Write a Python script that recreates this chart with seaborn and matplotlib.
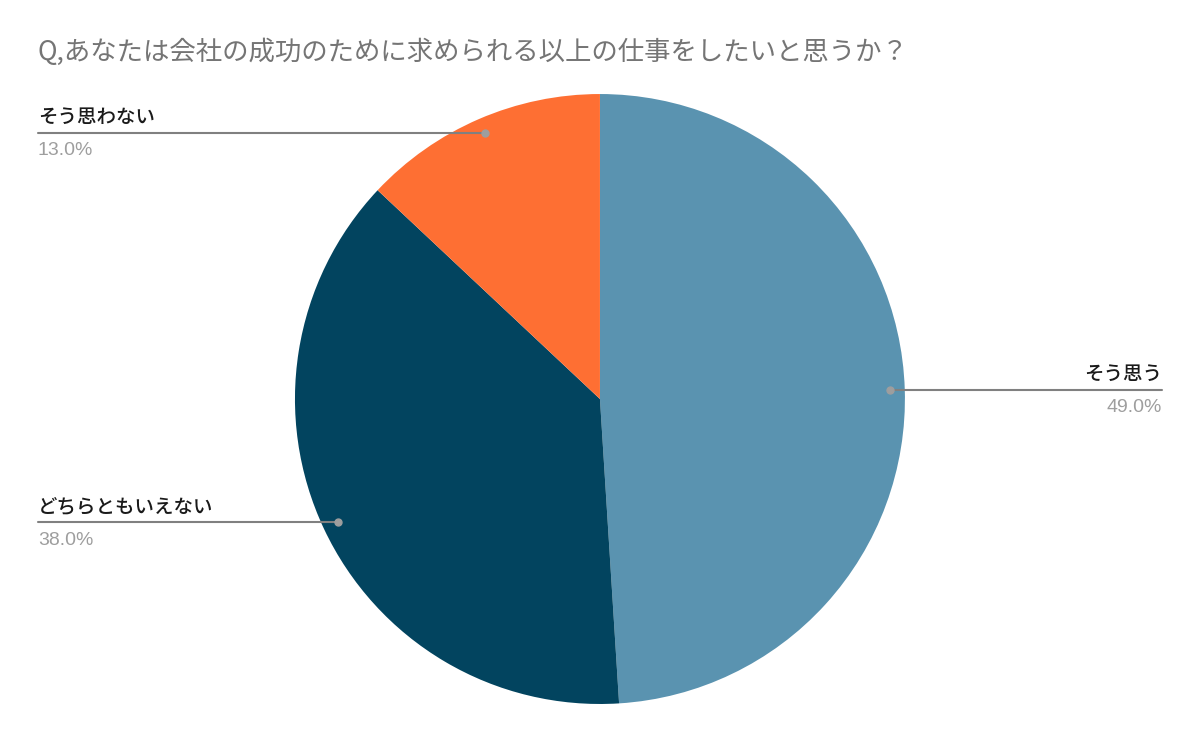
import numpy as np
import matplotlib
matplotlib.use("Agg")
import matplotlib.pyplot as plt
import seaborn as sns

# data
labels = ["そう思う", "どちらともいえない", "そう思わない"]
values = [49.0, 38.0, 13.0]
colors = ["#5a93b0", "#02445f", "#fe6f33"]
title = "Q,あなたは会社の成功のために求められる以上の仕事をしたいと思うか？"

sns.set_theme(style="white")
plt.rcParams["font.family"] = ["Noto Sans CJK JP", "DejaVu Sans"]

fig = plt.figure(figsize=(12, 7.42), dpi=100)
ax = fig.add_axes([0.2458, 0.0512, 0.5083, 0.8221])
wedges, _ = ax.pie(values, colors=colors, startangle=90, counterclock=False,
                   radius=1.0, wedgeprops=dict(linewidth=0))
ax.set_xlim(-1, 1)
ax.set_ylim(-1, 1)
ax.set_aspect("equal")
ax.axis("off")

# leader lines with labels
edge = 1.843
for w, lab, val in zip(wedges, labels, values):
    ang = np.deg2rad((w.theta1 + w.theta2) / 2)
    px, py = 0.95 * np.cos(ang), 0.95 * np.sin(ang)
    side = 1 if px > 0 else -1
    ex = side * edge
    ax.plot([px, ex], [py, py], color="#808080", lw=1.5, clip_on=False, zorder=3)
    ax.plot([px], [py], marker="o", ms=5, color="#9e9e9e", clip_on=False, zorder=4)
    ha = "right" if side > 0 else "left"
    ax.text(ex, py + 0.02, lab, ha=ha, va="bottom", fontsize=14, fontweight="medium",
            color="#1a1a1a", clip_on=False)
    ax.text(ex, py - 0.03, f"{val:.1f}%", ha=ha, va="top", fontsize=14,
            color="#9e9e9e", family=["Liberation Sans", "DejaVu Sans"], clip_on=False)

fig.text(0.031, 0.93, title, ha="left", va="center", fontsize=19, color="#757575")

fig.savefig("out.png", dpi=100, facecolor="white")
